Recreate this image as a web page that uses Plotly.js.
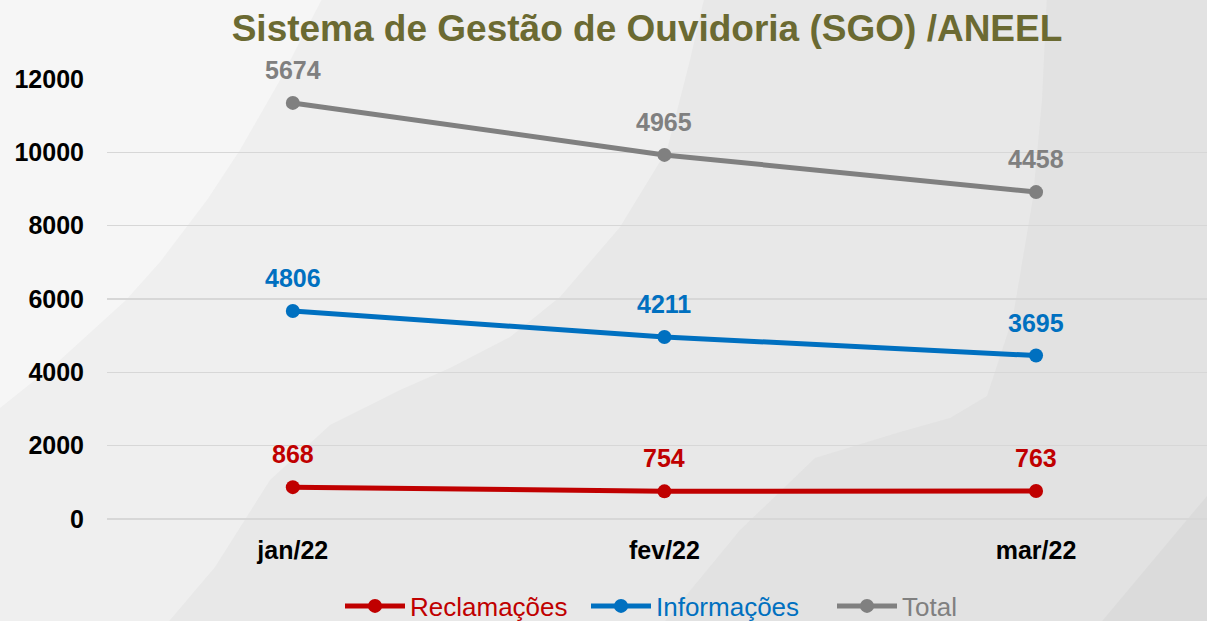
<!DOCTYPE html>
<html><head><meta charset="utf-8">
<script src="https://cdn.plot.ly/plotly-3.0.1.min.js"></script>
<style>html,body{margin:0;padding:0;overflow:hidden;background:#e8e8e8}#chart{width:1207px;height:621px}</style>
</head><body><div id="chart"></div>
<script>
const months = ['jan/22', 'fev/22', 'mar/22'];
const reclamacoes = [868, 754, 763];
const informacoes = [4806, 4211, 3695];
const total = [5674, 4965, 4458];
const seriesNames = ['Reclamações', 'Informações', 'Total'];
const seriesColors = ['#C00000', '#0070C0', '#808080'];
const yTicks = [0, 2000, 4000, 6000, 8000, 10000, 12000];

const W = 1207, H = 621, L = 107, R = 0, T = 79, B = 102;
const PW = W - L - R, PH = H - T - B;
const px = x => (x - L) / PW;
const py = y => (H - B - y) / PH;
function pathFrom(pts) {
  return pts.map((p, i) => (i ? 'L' : 'M') + px(p[0]).toFixed(4) + ',' + py(p[1]).toFixed(4)).join(' ') + ' Z';
}
const bgShapes = [
  {pts: [[-5,-5],[705,-5],[690,60],[667,150],[620,227],[560,297],[510,337],[450,368],[400,390],[330,425],[270,480],[215,567],[165,626],[-5,626]], color: '#efefef'},
  {pts: [[-5,-5],[324,-5],[280,80],[240,150],[207,200],[160,262],[126,300],[60,360],[-5,412]], color: '#f6f6f6'},
  {pts: [[1047,-5],[1212,-5],[1212,626],[661,626],[740,530],[815,458],[900,432],[950,418],[987,396],[1013,317],[1033,198],[1042,100]], color: '#e2e2e2'},
  {pts: [[1212,490],[1212,626],[1098,626]], color: '#dbdbdb'}
].map(s => ({type: 'path', xref: 'paper', yref: 'paper', layer: 'below', path: pathFrom(s.pts), fillcolor: s.color, line: {width: 0}}));

const values = [reclamacoes, informacoes, total];
const cum = [];
values.forEach((arr, k) => cum.push(arr.map((v, i) => v + (k ? cum[k - 1][i] : 0))));

const traces = values.map((arr, k) => ({
  type: 'scatter', mode: 'lines+markers', x: months, y: arr, stackgroup: 'one', fill: 'none',
  name: '<span style="color:' + seriesColors[k] + '">' + seriesNames[k] + '</span>',
  line: {color: seriesColors[k], width: 5}, marker: {color: seriesColors[k], size: 14},
  hoverinfo: 'skip'
}));

const annotations = [];
values.forEach((arr, k) => arr.forEach((v, i) => annotations.push({
  x: months[i], y: cum[k][i], xref: 'x', yref: 'y', text: String(v), showarrow: false,
  yshift: 33, yanchor: 'middle',
  font: {family: 'Liberation Sans, Arial, sans-serif', size: 25, color: seriesColors[k], weight: 700}
})));

const layout = {
  width: W, height: H,
  margin: {l: L, r: R, t: T, b: B, pad: 0},
  paper_bgcolor: '#e8e8e8', plot_bgcolor: 'rgba(0,0,0,0)',
  font: {family: 'Liberation Sans, Arial, sans-serif', color: '#000'},
  title: {text: 'Sistema de Gestão de Ouvidoria (SGO) /ANEEL', xref: 'container', yref: 'container',
    x: 647 / W, y: 1 - 28 / H, xanchor: 'center', yanchor: 'middle',
    font: {family: 'Liberation Sans, Arial, sans-serif', size: 37, color: '#6B6A32', weight: 700}},
  xaxis: {type: 'category', range: [-0.5, 2.46], showgrid: false, zeroline: false, showline: false,
    ticks: '', ticklabelstandoff: 14,
    tickfont: {size: 25, weight: 700, color: '#000'}, fixedrange: true},
  yaxis: {range: [0, 12000], tickvals: yTicks, ticktext: yTicks.map(String), showgrid: true, gridcolor: '#d7d7d7', gridwidth: 1.5,
    zeroline: true, zerolinecolor: '#d7d7d7', zerolinewidth: 1.5, showline: false, ticks: '', ticklabelstandoff: 22,
    tickfont: {size: 25, weight: 700, color: '#000'}, fixedrange: true},
  showlegend: true,
  legend: {orientation: 'h', xref: 'container', yref: 'container', x: 340 / W, y: 1 - 606 / H,
    xanchor: 'left', yanchor: 'middle', traceorder: 'normal', bgcolor: 'rgba(0,0,0,0)',
    entrywidth: 171, entrywidthmode: 'pixels', itemwidth: 60,
    font: {size: 26, family: 'Liberation Sans, Arial, sans-serif'}},
  shapes: bgShapes,
  annotations: annotations,
  hovermode: false
};
Plotly.newPlot('chart', traces, layout, {staticPlot: true, displayModeBar: false});
</script></body></html>
